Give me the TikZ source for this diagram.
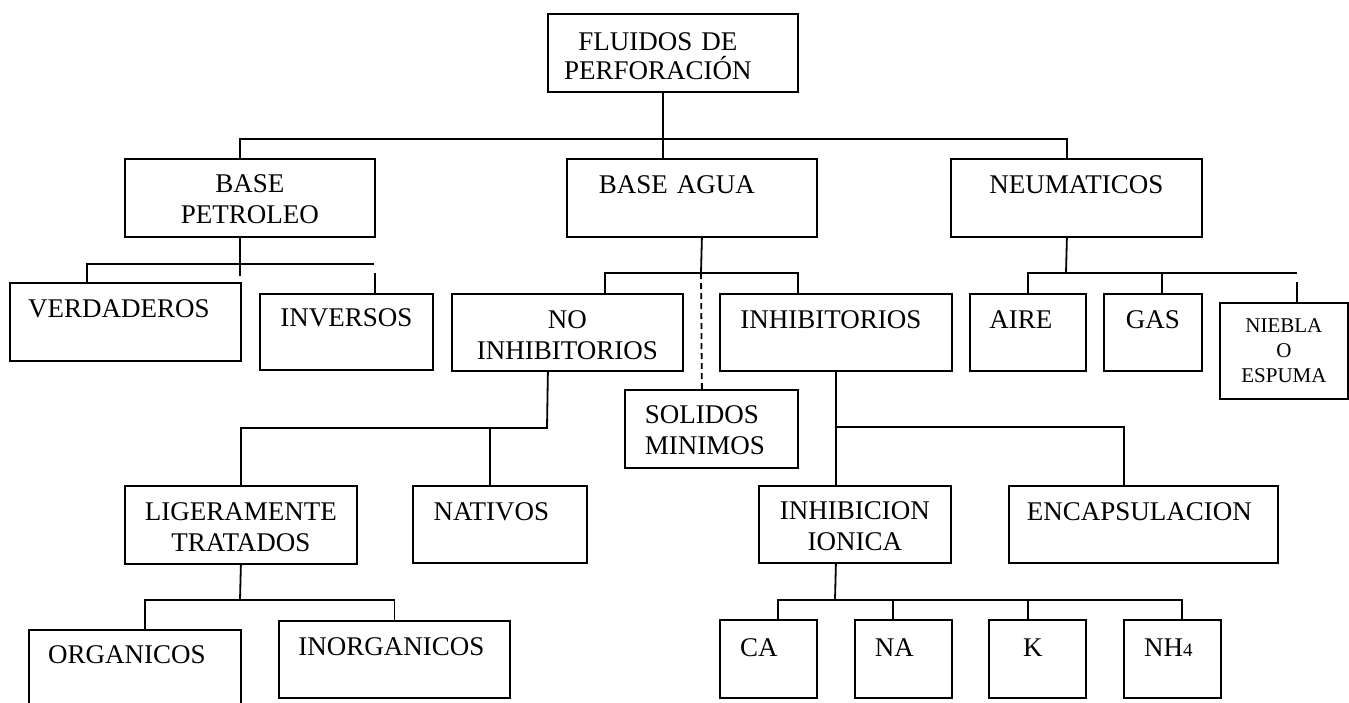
\documentclass[tikz,border=0pt]{standalone}
\usepackage{fontspec}
\setmainfont{Liberation Serif}
\newcommand\fbig{\fontsize{27pt}{31pt}\selectfont}
\newcommand\fsml{\fontsize{21pt}{25pt}\selectfont}
\newcommand\shl[2]{#2\hspace{#1}\mbox{}}
\tikzset{
  box/.style={draw, line width=1.8pt, inner sep=0pt, anchor=north west, align=center, font=\fbig},
  sz/.style n args={3}{text width=#1pt, text height=#2pt, text depth=#3pt},
  wire/.style={line width=1.8pt},
  dashwire/.style={line width=1.8pt, dash pattern=on 6pt off 4pt}
}
\begin{document}
\begin{tikzpicture}[x=1pt,y=-1pt]
\path[use as bounding box, fill=white] (0,0) rectangle (1349,702);
% boxes
\node[box, sz={250}{37}{41}, font=\fontsize{27pt}{29pt}\selectfont] (root) at (547,13) {\shl{30pt}{FLUIDOS DE}\\\shl{30pt}{PERFORACIÓN}};
\node[box, sz={250}{34}{44}] (bpet) at (124,158) {BASE\\PETROLEO};
\node[box, sz={250}{35}{43}] (bagua) at (566,158) {\shl{30pt}{BASE AGUA}};
\node[box, sz={251}{35}{43}] (neum) at (950,158) {NEUMATICOS};
\node[box, sz={231}{35}{43}] (verd) at (9,282) {\shl{13pt}{VERDADEROS}};
\node[box, sz={173}{33}{43}] (inv) at (259,293) {INVERSOS};
\node[box, sz={231}{35}{42}] (noinh) at (451,293) {NO\\INHIBITORIOS};
\node[box, sz={232}{35}{42}] (inhib) at (719,293) {\shl{10pt}{INHIBITORIOS}};
\node[box, sz={116}{35}{42}] (aire) at (969,293) {\shl{14pt}{AIRE}};
\node[box, sz={98}{35}{42}] (gas) at (1103,293) {GAS};
\node[box, sz={128}{30}{66}, font=\fsml] (niebla) at (1219,302) {NIEBLA\\O\\ESPUMA};
\node[box, sz={173}{34}{44}, align=left] (solid) at (624,389) {\hspace*{20pt}SOLIDOS\\\hspace*{20pt}MINIMOS};
\node[box, sz={232}{35}{43}] (lig) at (124,485) {LIGERAMENTE\\TRATADOS};
\node[box, sz={174}{35}{42}] (nat) at (412,485) {\shl{17pt}{NATIVOS}};
\node[box, sz={192}{34}{43}] (ionic) at (758,485) {INHIBICION\\IONICA};
\node[box, sz={269}{35}{42}] (encap) at (1008,485) {\shl{8pt}{ENCAPSULACION}};
\node[box, sz={212}{34}{46}] (org) at (28,629) {\shl{16pt}{ORGANICOS}};
\node[box, sz={231}{35}{42}] (inorg) at (278,620) {\shl{6pt}{INORGANICOS}};
\node[box, sz={97}{37}{41}] (ca) at (719,619) {\shl{19pt}{CA}};
\node[box, sz={97}{37}{41}] (na) at (854,619) {\shl{18pt}{NA}};
\node[box, sz={97}{37}{41}] (k) at (988,619) {\shl{9pt}{K}};
\node[box, sz={97}{37}{41}] (nh) at (1123,619) {\shl{8pt}{NH{\fontsize{19pt}{19pt}\selectfont 4}}};
% junctions
\coordinate (j0) at (662,139);
\coordinate (j1) at (374,264);
\coordinate (j2) at (701,273);
\coordinate (j3) at (1066,273);
\coordinate (j3e) at (1297,273);
\coordinate (j4) at (547,428);
\coordinate (j5) at (835,427);
\coordinate (j6) at (240,600);
\coordinate (j7) at (835,600);
% level 1
\draw[wire] ([xshift=-10pt]root.south) -- ([xshift=-29pt]bagua.north);
\draw[wire] ([xshift=-10pt]bpet.north) |- (j0) -| ([xshift=-9.5pt]neum.north);
% base petroleo
\draw[wire] ([xshift=-10pt]bpet.south) -- ++(0,38);
\draw[wire] ([xshift=-38.5pt]verd.north) |- (j1);
\draw[wire] ([xshift=28.5pt]inv.north) -- ++(0,-20);
% base agua
\draw[wire] ([xshift=10pt]bagua.south) -- (j2);
\draw[wire] ([xshift=37.5pt]noinh.north) |- (j2) -| ([xshift=-38pt]inhib.north);
\draw[dashwire] (j2) -- ([xshift=-9.5pt]solid.north);
% neumaticos
\draw[wire] ([xshift=-9.5pt]neum.south) -- (j3);
\draw[wire] (aire.north) |- (j3e);
\draw[wire] ([xshift=9pt]gas.north) -- ([xshift=9pt]gas.north |- j3);
\draw[wire] ([xshift=13pt]niebla.north) -- ++(0,-20);
% no inhibitorios
\draw[wire] ([xshift=-19.5pt]noinh.south) -- (j4) -| (lig.north);
\draw[wire] ([xshift=-10pt]nat.north) -- ([xshift=-10pt]nat.north |- j4);
% inhibitorios
\draw[wire] (inhib.south) -- ([xshift=-19pt]ionic.north);
\draw[wire] (j5) -| ([xshift=-19.5pt]encap.north);
% ligeramente tratados
\draw[wire] (lig.south) -- (j6);
\draw[wire] ([xshift=10pt]org.north) |- (j6) -| (inorg.north);
% inhibicion ionica
\draw[wire] ([xshift=-19pt]ionic.south) -- (j7);
\draw[wire] ([xshift=9.5pt]ca.north) |- (j7) -| ([xshift=9.5pt]nh.north);
\draw[wire] ([xshift=-10.5pt]na.north) -- ([xshift=-10.5pt]na.north |- j7);
\draw[wire] ([xshift=-9.5pt]k.north) -- ([xshift=-9.5pt]k.north |- j7);
\end{tikzpicture}
\end{document}
